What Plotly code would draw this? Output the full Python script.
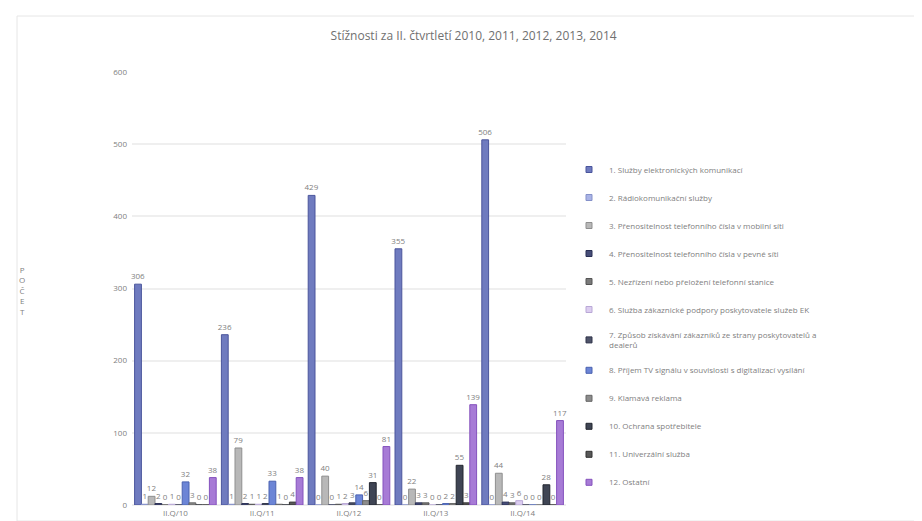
import plotly.graph_objects as go

categories = ["II.Q/10", "II.Q/11", "II.Q/12", "II.Q/13", "II.Q/14"]

series_names = [
    "1. Služby elektronických komunikací",
    "2. Rádiokomunikační služby",
    "3. Přenositelnost telefonního čísla v mobilní síti",
    "4. Přenositelnost telefonního čísla v pevné síti",
    "5. Nezřízení nebo přeložení telefonní stanice",
    "6. Služba zákaznické podpory poskytovatele služeb EK",
    "7. Způsob získávání zákazníků ze strany poskytovatelů a<br>dealerů",
    "8. Příjem TV signálu v souvislosti s digitalizací vysílání",
    "9. Klamavá reklama",
    "10. Ochrana spotřebitele",
    "11. Univerzální služba",
    "12. Ostatní",
]

s1 = [306, 236, 429, 355, 506]
s2 = [1, 1, 0, 0, 0]
s3 = [12, 79, 40, 22, 44]
s4 = [2, 2, 0, 3, 4]
s5 = [0, 1, 1, 3, 3]
s6 = [1, 1, 2, 0, 6]
s7 = [0, 2, 3, 0, 0]
s8 = [32, 33, 14, 2, 0]
s9 = [3, 1, 6, 2, 0]
s10 = [0, 0, 31, 55, 28]
s11 = [0, 4, 0, 3, 0]
s12 = [38, 38, 81, 139, 117]
series_values = [s1, s2, s3, s4, s5, s6, s7, s8, s9, s10, s11, s12]

fill_colors = ["#6f7bbf", "#a9b3e6", "#b8b8b8", "#464d78", "#7a7a7a", "#dccdf0",
               "#4f546a", "#6c85d6", "#8c8c8c", "#3f4554", "#585858", "#a77bd6"]
line_colors = ["#4a559c", "#8591c9", "#8f8f8f", "#2a3055", "#555555", "#b9a8d6",
               "#30344a", "#4a62b0", "#666666", "#22262f", "#333333", "#8552bd"]

title_text = "Stížnosti za II. čtvrtletí 2010, 2011, 2012, 2013, 2014"
y_title = "P<br>O<br>Č<br>E<br>T"

FONT = "Open Sans, Lato, sans-serif"
fig = go.Figure()
for i, (name, vals) in enumerate(zip(series_names, series_values)):
    fig.add_trace(go.Bar(
        x=categories, y=vals, name=name, legendgroup=str(i), showlegend=False,
        marker=dict(color=fill_colors[i], line=dict(color=line_colors[i], width=1)),
        text=[str(v) for v in vals], textposition="outside",
        textfont=dict(size=8, color="#808080", family=FONT),
        cliponaxis=False,
    ))
# legend entries with small square swatches
for i, name in enumerate(series_names):
    fig.add_trace(go.Scatter(
        x=[None], y=[None], mode="markers", name=name, legendgroup=str(i),
        marker=dict(symbol="square", size=6, color=fill_colors[i],
                    line=dict(color=line_colors[i], width=1)),
        showlegend=True,
    ))

# plot area px: x 124..558, y 64..497
L, R, T, B = 124, 558, 64, 497
W, H = R - L, B - T
def px(p):
    return (p - L) / W
def py(p):
    return (B - p) / H

fig.update_layout(
    width=922, height=521,
    margin=dict(l=L, r=922 - R, t=T, b=521 - B, autoexpand=False),
    paper_bgcolor="white", plot_bgcolor="white",
    barmode="group", bargap=0.06, bargroupgap=0,
    uniformtext=dict(minsize=8, mode="show"),
    font=dict(family=FONT, color="#808080", size=8),
    title=dict(text=title_text, x=0.505, xref="container", xanchor="center",
               y=1 - 28 / 521, yanchor="middle",
               font=dict(size=12, color="#707070", family=FONT)),
    showlegend=True,
    legend=dict(x=px(561), y=py(147), xanchor="left", yanchor="top",
                font=dict(size=8, color="#808080", family=FONT),
                tracegroupgap=9, itemwidth=30, bgcolor="rgba(0,0,0,0)"),
    xaxis=dict(showgrid=False, showline=True, linecolor="#eeeeee", ticks="",
               tickfont=dict(size=8, color="#808080"), automargin=False),
    yaxis=dict(range=[0, 600], dtick=100, showgrid=True, gridcolor="#efefef",
               gridwidth=1.5, zeroline=True, zerolinecolor="#eeeeee",
               tickfont=dict(size=8, color="#808080"), ticklabelstandoff=4,
               automargin=False),
    annotations=[dict(text=y_title, x=px(14), y=py(282), xref="paper", yref="paper",
                      xanchor="center", yanchor="middle",
                      showarrow=False, align="center",
                      font=dict(size=8, color="#808080", family=FONT))],
    shapes=[dict(type="rect", xref="paper", yref="paper",
                 x0=px(9), x1=px(914), y0=py(513), y1=py(8),
                 line=dict(color="#e6e6e6", width=1), fillcolor="rgba(0,0,0,0)",
                 layer="below")],
)

fig.write_html("out.html")
